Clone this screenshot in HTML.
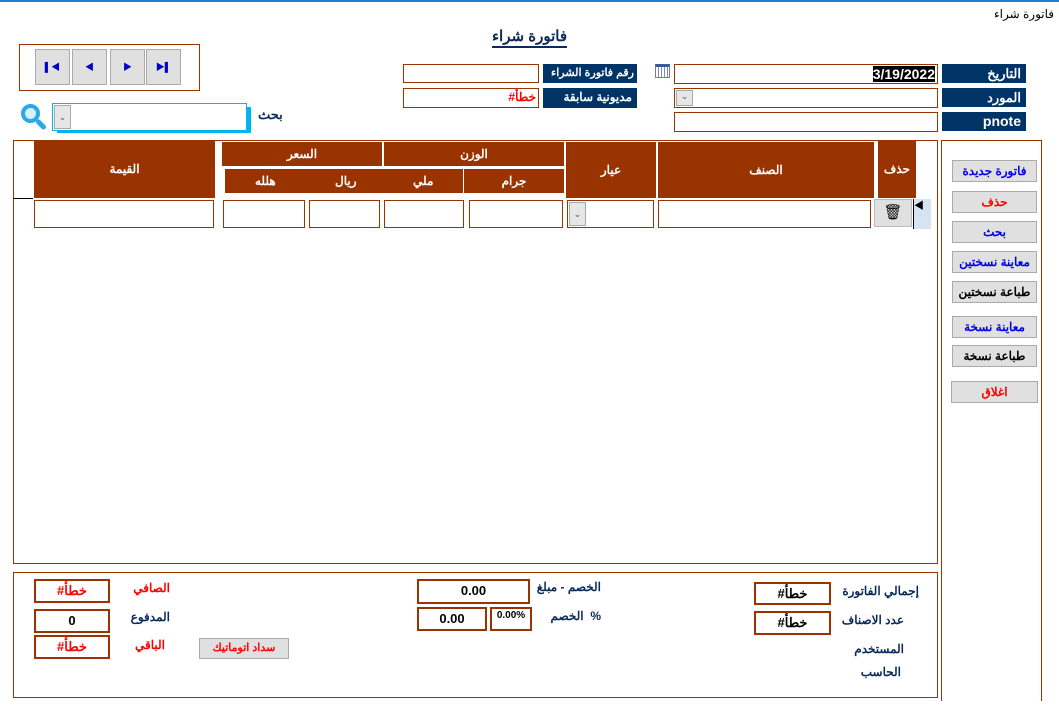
<!DOCTYPE html>
<html><head><meta charset="utf-8"><style>
*{box-sizing:border-box;margin:0;padding:0}
body{width:1059px;height:705px;position:relative;background:#fff;font-family:"Liberation Sans","Noto Sans CJK SC",sans-serif;overflow:hidden}
.a{position:absolute}
.lb{position:absolute;background:#003366;color:#fff;font-weight:bold;font-size:13px;text-align:right;padding-right:5px;line-height:19px;white-space:nowrap;overflow:hidden}
.in{position:absolute;border:1px solid #993300;background:#fff}
.hd{position:absolute;background:#993300;color:#fff;font-weight:bold;font-size:12px;text-align:center}
.nb{position:absolute;top:49px;width:35px;height:36px;background:#e0e0e0;border:1px solid #aaa;color:#0000cc;font-size:9px;text-align:center;line-height:34px}
.sb{position:absolute;left:952px;width:85px;height:22px;background:#e0e0e0;border:1px solid #aaa;font-weight:bold;font-size:12px;text-align:center;line-height:20px}
.t{position:absolute;font-weight:bold;font-size:12px;color:#0a2a5a;white-space:nowrap}
.v{position:absolute;border:2px solid #993300;background:#fff;font-weight:bold;font-size:13px;text-align:center;line-height:19px}
.e{display:inline-flex;direction:ltr}
.cb{position:absolute;width:17px;background:#e6e6e6;border:1px solid #aaa;font-size:9px;color:#555;text-align:center}
</style></head><body>
<div class="a" style="left:0;top:0;width:1059px;height:2px;background:#1e7fd0"></div>
<div class="a" style="right:5px;top:7px;font-size:12px">فاتورة شراء</div>
<div class="a" style="left:492px;top:27px;font-size:15px;font-weight:bold;color:#0a2a5a;border-bottom:2px solid #0a2a5a;line-height:19px">فاتورة شراء</div>

<div class="a" style="left:19px;top:44px;width:181px;height:47px;border:1px solid #993300"></div>
<div class="nb" style="left:35px">&#9612;&#9664;</div>
<div class="nb" style="left:72px">&#9664;</div>
<div class="nb" style="left:110px">&#9654;</div>
<div class="nb" style="left:146px">&#9654;&#9612;</div>

<div class="lb" style="left:942px;top:64px;width:84px">التاريخ</div>
<div class="lb" style="left:942px;top:88px;width:84px">المورد</div>
<div class="lb" style="left:942px;top:112px;width:84px;font-size:14px">pnote</div>
<div class="in" style="left:674px;top:64px;width:264px;height:20px"><span style="position:absolute;right:2px;top:1px;background:#000;color:#fff;font-weight:bold;font-size:14px;line-height:16px">3/19/2022</span></div>
<div class="in" style="left:674px;top:88px;width:264px;height:20px"><div class="cb" style="left:1px;top:1px;height:16px">&#8964;</div></div>
<div class="in" style="left:674px;top:112px;width:264px;height:20px"></div>
<div class="a" style="left:655px;top:64px;width:15px;height:14px;border:1px solid #6a7fb0;background:repeating-linear-gradient(90deg,#fff 0 2px,#7a8cc0 2px 3px);border-top:3px solid #3a5aa0"></div>
<div class="lb" style="left:543px;top:64px;width:94px;height:19px;font-size:11px;padding-right:3px">رقم فاتورة الشراء</div>
<div class="lb" style="left:543px;top:88px;width:94px;height:20px;font-size:12px">مديونية سابقة</div>
<div class="in" style="left:403px;top:64px;width:136px;height:19px"></div>
<div class="in" style="left:403px;top:88px;width:136px;height:20px"><span class="e" style="position:absolute;right:2px;top:1px;color:red;font-weight:bold;font-size:12px"><span>#</span><span>خطأ</span></span></div>

<div class="t" style="left:258px;top:107px;font-size:13px">بحث</div>
<div class="a" style="left:57px;top:107px;width:194px;height:26px;background:#00b4ee"></div>
<div class="a" style="left:52px;top:103px;width:195px;height:28px;border:1px solid #00b4ee;background:#fff"><div class="cb" style="left:1px;top:1px;height:24px;line-height:22px">&#8964;</div></div>
<div class="a" style="left:21px;top:104px;width:19px;height:19px;border-radius:50%;border:4px solid #29a9e8;background:#d8f0fc"></div>
<div class="a" style="left:35px;top:122px;width:12px;height:5px;background:#29a9e8;transform:rotate(45deg);border-radius:3px"></div>

<div class="a" style="left:13px;top:140px;width:925px;height:424px;border:1px solid #993300"></div>
<div class="hd" style="left:34px;top:141px;width:181px;height:57px;line-height:57px">القيمة</div>
<div class="hd" style="left:222px;top:142px;width:160px;height:24px;line-height:24px">السعر</div>
<div class="hd" style="left:384px;top:142px;width:180px;height:24px;line-height:24px">الوزن</div>
<div class="hd" style="left:225px;top:169px;width:238px;height:24px;line-height:24px"><span style="position:absolute;left:30px">هلله</span><span style="position:absolute;left:110px">ريال</span><span style="position:absolute;left:188px">ملي</span></div>
<div class="hd" style="left:464px;top:169px;width:100px;height:24px;line-height:24px">جرام</div>
<div class="hd" style="left:566px;top:142px;width:90px;height:56px;line-height:56px">عيار</div>
<div class="hd" style="left:658px;top:142px;width:216px;height:56px;line-height:56px">الصنف</div>
<div class="hd" style="left:878px;top:141px;width:38px;height:57px;line-height:57px">حذف</div>
<div class="a" style="left:13px;top:198px;width:20px;height:1px;background:#000"></div>
<div class="in" style="left:34px;top:200px;width:180px;height:28px"></div>
<div class="in" style="left:223px;top:200px;width:82px;height:28px"></div>
<div class="in" style="left:309px;top:200px;width:71px;height:28px"></div>
<div class="in" style="left:384px;top:200px;width:80px;height:28px"></div>
<div class="in" style="left:469px;top:200px;width:94px;height:28px"></div>
<div class="in" style="left:567px;top:200px;width:87px;height:28px"><div class="cb" style="left:1px;top:1px;height:24px;line-height:22px">&#8964;</div></div>
<div class="in" style="left:658px;top:200px;width:213px;height:28px"></div>
<div class="a" style="left:874px;top:199px;width:38px;height:28px;background:#e0e0e0;border:1px solid #bbb;text-align:center;line-height:26px;font-size:15px">&#128465;</div>
<div class="a" style="left:913px;top:199px;width:18px;height:30px;background:#d6e4f2;border-left:1px solid #000;font-size:10px;line-height:16px">&#9664;</div>

<div class="a" style="left:941px;top:140px;width:101px;height:561px;border:1px solid #993300;border-bottom:none"></div>
<div class="sb" style="top:160px;color:#0000ee">فاتورة جديدة</div>
<div class="sb" style="top:191px;color:red">حذف</div>
<div class="sb" style="top:221px;color:#0000ee">بحث</div>
<div class="sb" style="top:251px;color:#0000ee">معاينة نسختين</div>
<div class="sb" style="top:281px;color:#000">طباعة نسختين</div>
<div class="sb" style="top:316px;color:#0000ee">معاينة نسخة</div>
<div class="sb" style="top:345px;color:#000">طباعة نسخة</div>
<div class="sb" style="top:381px;left:951px;width:87px;color:red">اغلاق</div>

<div class="a" style="left:13px;top:572px;width:925px;height:126px;border:1px solid #993300"></div>
<div class="t" style="right:140px;top:584px">إجمالي الفاتورة</div>
<div class="v" style="left:754px;top:582px;width:77px;height:23px"><span class="e"><span>#</span><span>خطأ</span></span></div>
<div class="t" style="right:155px;top:613px">عدد الاصناف</div>
<div class="v" style="left:754px;top:611px;width:77px;height:24px"><span class="e"><span>#</span><span>خطأ</span></span></div>
<div class="t" style="right:155px;top:642px">المستخدم</div>
<div class="t" style="right:158px;top:665px">الحاسب</div>
<div class="t" style="right:458px;top:580px">الخصم - مبلغ</div>
<div class="v" style="left:417px;top:579px;width:113px;height:25px">0.00</div>
<div class="t" style="right:458px;top:609px">الخصم &nbsp;%</div>
<div class="v" style="left:417px;top:607px;width:70px;height:24px">0.00</div>
<div class="a" style="left:490px;top:607px;width:42px;height:24px;border:2px solid #993300;font-size:10px;font-weight:bold;text-align:center;line-height:14px">0.00%</div>
<div class="t" style="right:889px;top:581px;color:red">الصافي</div>
<div class="v" style="left:34px;top:579px;width:76px;height:24px;color:red"><span class="e"><span>#</span><span>خطأ</span></span></div>
<div class="t" style="right:889px;top:610px">المدفوع</div>
<div class="v" style="left:34px;top:609px;width:76px;height:24px">0</div>
<div class="t" style="right:894px;top:638px;color:red">الباقي</div>
<div class="v" style="left:34px;top:635px;width:76px;height:24px;color:red"><span class="e"><span>#</span><span>خطأ</span></span></div>
<div class="a" style="left:199px;top:638px;width:90px;height:21px;background:#e0e0e0;border:1px solid #aaa;color:red;font-weight:bold;font-size:11px;text-align:center;line-height:19px">سداد اتوماتيك</div>
</body></html>
